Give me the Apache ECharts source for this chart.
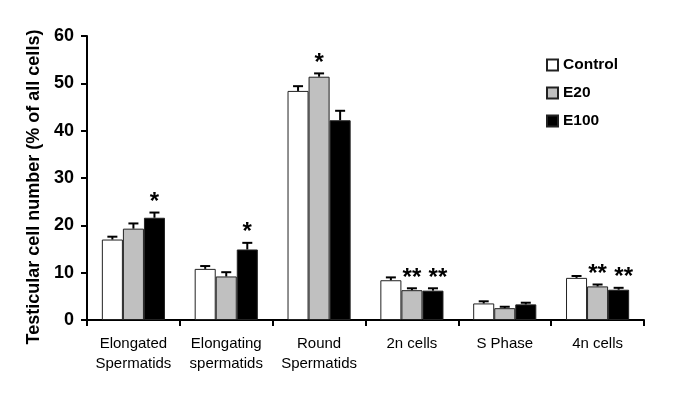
<!DOCTYPE html>
<html>
<head>
<meta charset="utf-8">
<script src="https://cdn.jsdelivr.net/npm/echarts@6/dist/echarts.min.js"></script>
<style>
  html, body { margin: 0; padding: 0; background: #fff; }
  #chart { width: 685px; height: 404px; }
</style>
</head>
<body>
<div id="chart"></div>
<script>
const categories = ['Elongated\nSpermatids', 'Elongating\nspermatids', 'Round\nSpermatids', '2n cells', 'S Phase', '4n cells'];
const seriesNames = ['Control', 'E20', 'E100'];

const controlValues = [17.0, 10.8, 48.4, 8.4, 3.5, 8.9];
const e20Values = [19.3, 9.2, 51.4, 6.3, 2.5, 7.1];
const e100Values = [21.6, 14.9, 42.2, 6.2, 3.3, 6.4];

// upper error bar (SEM)
const controlErr = [0.6, 0.6, 1.0, 0.6, 0.45, 0.4];
const e20Err = [1.1, 0.9, 0.7, 0.4, 0.3, 0.4];
const e100Err = [1.1, 1.4, 2.0, 0.5, 0.35, 0.4];

// significance marks
const controlStars = ['', '', '', '', '', ''];
const e20Stars = ['', '', '*', '**', '', '**'];
const e100Stars = ['*', '*', '', '**', '', '**'];

const yTicks = [0, 10, 20, 30, 40, 50, 60];

const font = '"Liberation Sans", Arial, sans-serif';
const colors = ['#ffffff', '#c0c0c0', '#000000'];

const values = [controlValues, e20Values, e100Values];
const errs = [controlErr, e20Err, e100Err];
const stars = [controlStars, e20Stars, e100Stars];

const chart = echarts.init(document.getElementById('chart'));

const barSeries = seriesNames.map((name, i) => ({
  name,
  type: 'bar',
  data: values[i],
  barGap: '0%',
  barCategoryGap: '32%',
  itemStyle: { color: colors[i], borderColor: '#222', borderWidth: 1 },
  emphasis: { disabled: true },
  animation: false
}));

const errSeries = seriesNames.map((name, i) => ({
  type: 'custom',
  z: 5,
  silent: true,
  animation: false,
  data: values[i].map((v, j) => [j, v, v + errs[i][j], stars[i][j]]),
  renderItem: (params, api) => {
    const band = api.size([1, 0])[0];
    const barW = band * 0.68 / 3;
    const base = api.coord([api.value(0), api.value(1)]);
    const top = api.coord([api.value(0), api.value(2)]);
    const x = base[0] + (i - 1) * barW;
    const cap = 5;
    const children = [
      { type: 'line', shape: { x1: x, y1: base[1], x2: x, y2: top[1] }, style: { stroke: '#000', lineWidth: 2 } },
      { type: 'line', shape: { x1: x - cap, y1: top[1], x2: x + cap, y2: top[1] }, style: { stroke: '#000', lineWidth: 2 } }
    ];
    const s = api.value(3);
    if (s) {
      // double stars on the last bar sit a little to the right
      const dx = (s.length > 1 && i === 2) ? 5 : 0;
      children.push({
        type: 'text',
        style: {
          text: s, x: x + dx, y: top[1] + 2,
          align: 'center', verticalAlign: 'bottom',
          font: 'bold 24px ' + font, fill: '#000'
        }
      });
    }
    return { type: 'group', children };
  }
}));

chart.setOption({
  backgroundColor: '#fff',
  grid: { left: 87, right: 41, top: 36, bottom: 84 },
  legend: {
    orient: 'vertical',
    left: 541,
    top: 52,
    itemWidth: 11,
    itemHeight: 11,
    itemGap: 12,
    icon: 'rect',
    data: seriesNames,
    textStyle: { fontFamily: font, fontWeight: 'bold', fontSize: 15.5, color: '#000' },
    selectedMode: false
  },
  xAxis: {
    type: 'category',
    data: categories,
    axisLine: { lineStyle: { color: '#000', width: 2 } },
    axisTick: { show: true, interval: 0, length: 6, lineStyle: { color: '#000', width: 2 } },
    axisLabel: { interval: 0, fontFamily: font, fontSize: 15, color: '#000', margin: 14, lineHeight: 20 }
  },
  yAxis: {
    type: 'value',
    min: yTicks[0],
    max: yTicks[yTicks.length - 1],
    interval: 10,
    name: 'Testicular cell number (% of all cells)',
    nameLocation: 'middle',
    nameGap: 39,
    nameTextStyle: { fontFamily: font, fontWeight: 'bold', fontSize: 18, color: '#000', padding: [0, 18, 0, 0] },
    splitLine: { show: false },
    axisLine: { show: true, lineStyle: { color: '#000', width: 2 } },
    axisTick: { show: true, length: 6, lineStyle: { color: '#000', width: 2 } },
    axisLabel: { fontFamily: font, fontWeight: 'bold', fontSize: 18, color: '#000', margin: 13 }
  },
  series: [...barSeries, ...errSeries]
});
</script>
</body>
</html>
